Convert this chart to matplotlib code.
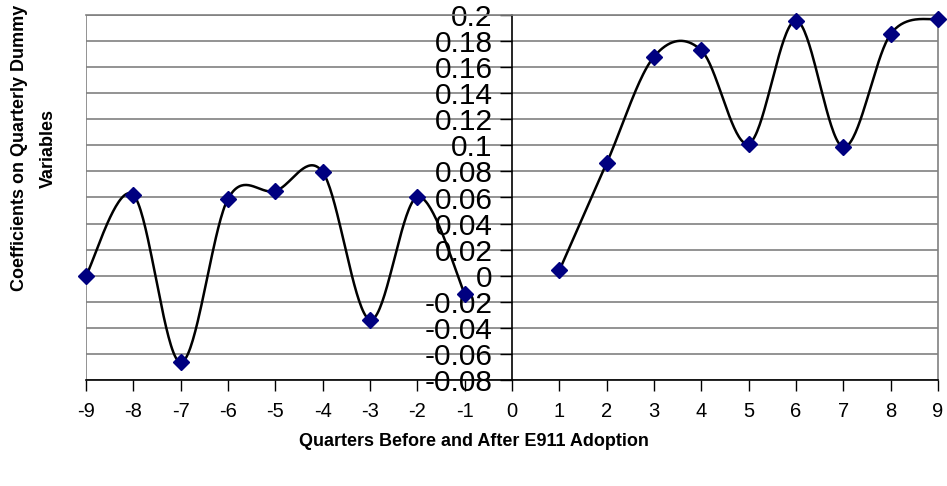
import numpy as np
import matplotlib
matplotlib.use("Agg")
import matplotlib.pyplot as plt

plt.rcParams['font.family'] = ['Liberation Sans', 'DejaVu Sans']

quarters_before = [-9, -8, -7, -6, -5, -4, -3, -2, -1]
coef_before = [0.0, 0.062, -0.0665, 0.059, 0.065, 0.0795, -0.0338, 0.0604, -0.0138]
quarters_after = [1, 2, 3, 4, 5, 6, 7, 8, 9]
coef_after = [0.004, 0.0864, 0.168, 0.1729, 0.1013, 0.1957, 0.0987, 0.1854, 0.1972]
y_ticks = [-0.08, -0.06, -0.04, -0.02, 0, 0.02, 0.04, 0.06, 0.08, 0.1, 0.12, 0.14, 0.16, 0.18, 0.2]
y_tick_labels = ["-0.08", "-0.06", "-0.04", "-0.02", "0", "0.02", "0.04", "0.06", "0.08",
                 "0.1", "0.12", "0.14", "0.16", "0.18", "0.2"]
x_ticks = list(range(-9, 10))


def smooth(xs, ys, n=40):
    xs = np.asarray(xs, float)
    ys = np.asarray(ys, float)
    P = np.column_stack([xs, ys])
    m = len(P)
    out = []
    for i in range(m - 1):
        p0 = P[i - 1] if i > 0 else P[i]
        p1 = P[i]
        p2 = P[i + 1]
        p3 = P[i + 2] if i + 2 < m else P[i + 1]
        c1 = p1 + (p2 - p0) / 6.0
        c2 = p2 - (p3 - p1) / 6.0
        t = np.linspace(0, 1, n)[:, None]
        seg = ((1 - t) ** 3) * p1 + 3 * ((1 - t) ** 2) * t * c1 + 3 * (1 - t) * t ** 2 * c2 + t ** 3 * p2
        if i > 0:
            seg = seg[1:]
        out.append(seg)
    pts = np.vstack(out)
    return pts[:, 0], pts[:, 1]


fig = plt.figure(figsize=(9.47, 4.86), dpi=100)
ax = fig.add_axes([86 / 947, (486 - 380) / 486, (938 - 86) / 947, (380 - 15) / 486])

ax.set_xlim(-9, 9)
ax.set_ylim(-0.08, 0.2)

for y in y_ticks:
    ax.axhline(y, color='#808080', lw=1.2, zorder=1)

for xs, ys in [(quarters_before, coef_before), (quarters_after, coef_after)]:
    sx, sy = smooth(xs, ys)
    ax.plot(sx, sy, color='black', lw=1.8, zorder=3, clip_on=False)
    ax.plot(xs, ys, linestyle='none', marker='D', markersize=8, color='#000080', zorder=4, clip_on=False)

ax.spines['left'].set_position(('data', 0))
ax.spines['left'].set_color('black')
ax.spines['left'].set_linewidth(1.2)
ax.spines['bottom'].set_color('black')
ax.spines['bottom'].set_linewidth(1.2)
ax.spines['top'].set_color('#808080')
ax.spines['top'].set_linewidth(1.2)
ax.spines['right'].set_color('#808080')
ax.spines['right'].set_linewidth(1.2)
ax.axvline(-9, color='#808080', lw=1.2, zorder=1)

ax.set_yticks(y_ticks)
ax.set_yticklabels(y_tick_labels, fontsize=21.5)
ax.tick_params(axis='y', direction='out', length=9, width=1, pad=5, color='black')
ax.set_xticks(x_ticks)
ax.set_xticklabels([str(v) for v in x_ticks], fontsize=14.5)
ax.tick_params(axis='x', direction='out', length=8, width=1, pad=8, color='black')

fig.text(0.5, (486 - 441) / 486, 'Quarters Before and After E911 Adoption', ha='center', va='center',
         fontsize=13, fontweight='bold')
fig.text(34 / 947, (486 - 148) / 486, 'Coefficients on Quarterly Dummy\nVariables', ha='center', va='center',
         rotation=90, fontsize=13, fontweight='bold', linespacing=1.95)

fig.savefig('out.png', dpi=100)
